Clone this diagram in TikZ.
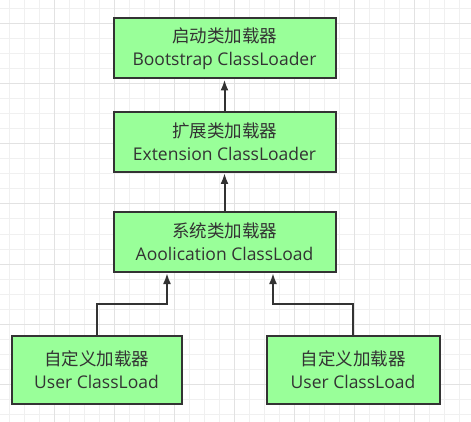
\documentclass[tikz,border=0pt]{standalone}
\usepackage{fontspec}
\setmainfont{Open Sans}
\newfontfamily\cjk{Noto Sans CJK SC}
\usetikzlibrary{arrows.meta}
\definecolor{boxgreen}{HTML}{99FF99}
\definecolor{boxline}{HTML}{333333}
\definecolor{gridminor}{HTML}{F0F0F0}
\definecolor{gridmajor}{HTML}{E2E2E2}
\tikzset{
  >={Latex[length=11pt,width=8pt]},
  {loader/.style} ={rectangle, draw=boxline, line width=2pt, fill=boxgreen,
                    text=boxline, align=center, inner sep=0pt,
                    font=\fontsize{17.5}{23}\selectfont},
  {wide loader/.style} ={loader, minimum width=222pt, minimum height=60pt},
  {user loader/.style} ={loader, minimum height=68pt},
  {link/.style} ={draw=boxline, line width=2pt},
}
\begin{document}
\begin{tikzpicture}[x=1pt,y=-1pt]
    \useasboundingbox (0,0) rectangle (471,422);
    % background grid
    \foreach \x in {9,24,...,469} \draw[gridminor,line width=1pt] (\x,0) -- (\x,422);
    \foreach \y in {9,24,...,420} \draw[gridminor,line width=1pt] (0,\y) -- (471,\y);
    \foreach \x in {54,114,...,469} \draw[gridmajor,line width=1pt] (\x,0) -- (\x,422);
    \foreach \y in {24,84,...,420} \draw[gridmajor,line width=1pt] (0,\y) -- (471,\y);
    \node[wide loader] (boot) at (224.5,48.5) {{\cjk 启动类加载器}\\
    Bootstrap ClassLoader};
    \node[wide loader] (ext) at (224.5,142) {{\cjk 扩展类加载器}\\
    Extension ClassLoader};
    \node[wide loader] (app) at (224.5,242) {{\cjk 系统类加载器}\\
    Aoolication ClassLoad};
    \node[user loader,minimum width=170pt] (userA) at (96.5,369.5) {{\cjk 自定义加载器}\\
    User ClassLoad};
    \node[user loader,minimum width=173pt] (userB) at (353,369.5) {{\cjk 自定义加载器}\\
    User ClassLoad};
    \draw[link,->] (ext) -- (boot);
    \draw[link,->] (app) -- (ext);
    \draw[link,->] (userA.north) -- ++(0,-31) -| ([xshift=-57.5pt]app.south);
    \draw[link,->] (userB.north) -- ++(0,-31) -| ([xshift=48.5pt]app.south);
\end{tikzpicture}
\end{document}
